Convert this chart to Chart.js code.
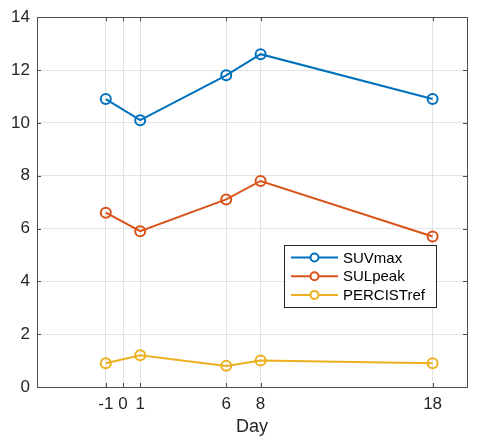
<!DOCTYPE html>
<html>
<head>
<meta charset="utf-8">
<script src="https://cdn.jsdelivr.net/npm/chart.js@4.4.1/dist/chart.umd.min.js"></script>
<style>
  html, body { margin: 0; padding: 0; background: #fff; }
  #wrap { position: relative; width: 481px; height: 443px; }
</style>
</head>
<body>
<div id="wrap"><canvas id="trend" width="481" height="443"></canvas></div>
<script>
// data
var days = [-1, 1, 6, 8, 18];
var suvMax = [10.9, 10.1, 11.8, 12.6, 10.9];
var sulPeak = [6.6, 5.9, 7.1, 7.8, 5.7];
var percistRef = [0.9, 1.2, 0.8, 1.0, 0.9];
var xTicks = [-1, 0, 1, 6, 8, 18];
var yTicks = [0, 2, 4, 6, 8, 10, 12, 14];

var FONT = "'Liberation Sans', Arial, sans-serif";
var axisColor = "#4d4d4d";

function pts(ys) {
    return days.map(function(d, i) { return { x: d, y: ys[i] }; });
}

function series(label, ys, color) {
    return {
        label: label,
        data: pts(ys),
        borderColor: color,
        backgroundColor: color,
        borderWidth: 2,
        pointRadius: 5,
        pointBorderWidth: 2,
        pointBackgroundColor: "rgba(255,255,255,0)",
        pointBorderColor: color,
        tension: 0
    };
}

// box round the plot + inward ticks, like matlab
var boxPlugin = {
    id: 'box',
    afterDraw: function(chart) {
        var ctx = chart.ctx, a = chart.chartArea;
        var xs = chart.scales.x, ys = chart.scales.y;
        ctx.save();
        ctx.strokeStyle = axisColor;
        ctx.lineWidth = 1;
        ctx.strokeRect(Math.round(a.left) + 0.5, Math.round(a.top) + 0.5,
            Math.round(a.right - a.left), Math.round(a.bottom - a.top));
        ctx.beginPath();
        xTicks.forEach(function(v) {
            var px = Math.round(xs.getPixelForValue(v)) + 0.5;
            ctx.moveTo(px, a.bottom); ctx.lineTo(px, a.bottom - 4);
            ctx.moveTo(px, a.top); ctx.lineTo(px, a.top + 4);
        });
        yTicks.forEach(function(v) {
            var py = Math.round(ys.getPixelForValue(v)) + 0.5;
            ctx.moveTo(a.left, py); ctx.lineTo(a.left + 4, py);
            ctx.moveTo(a.right, py); ctx.lineTo(a.right - 4, py);
        });
        ctx.stroke();
        ctx.restore();
    }
};

// legend box inside the axes (south-east-ish)
var legendPlugin = {
    id: 'boxLegend',
    afterDraw: function(chart) {
        var ctx = chart.ctx;
        var x0 = 284, y0 = 245, w = 152, h = 62, rowH = 18.7;
        ctx.save();
        ctx.fillStyle = "#fff";
        ctx.fillRect(x0, y0, w, h);
        ctx.strokeStyle = "#262626";
        ctx.lineWidth = 1;
        ctx.strokeRect(x0 + 0.5, y0 + 0.5, w, h);
        chart.data.datasets.forEach(function(ds, i) {
            var cy = y0 + 12.5 + i * rowH;
            ctx.strokeStyle = ds.borderColor;
            ctx.lineWidth = 2;
            ctx.beginPath();
            ctx.moveTo(x0 + 7, cy); ctx.lineTo(x0 + 54, cy);
            ctx.stroke();
            ctx.beginPath();
            ctx.arc(x0 + 30.5, cy, 4, 0, Math.PI * 2);
            ctx.fillStyle = "#fff";
            ctx.fill();
            ctx.stroke();
            ctx.fillStyle = "#000";
            ctx.font = "15px " + FONT;
            ctx.textBaseline = "middle";
            ctx.fillText(ds.label, x0 + 59, cy + 1);
        });
        ctx.restore();
    }
};

var trendChart = new Chart(document.getElementById("trend"), {
    type: 'line',
    data: {
        datasets: [
            series('SUVmax', suvMax, "#0072BD"),
            series('SULpeak', sulPeak, "#D95319"),
            series('PERCISTref', percistRef, "#EDB120")
        ]
    },
    options: {
        responsive: false,
        animation: false,
        layout: { padding: { top: 16, right: 14, left: 0, bottom: 0 } },
        plugins: {
            legend: { display: false },
            tooltip: { enabled: false }
        },
        scales: {
            x: {
                type: 'linear',
                min: -5,
                max: 20,
                afterBuildTicks: function(scale) {
                    scale.ticks = xTicks.map(function(v) { return { value: v }; });
                },
                afterFit: function(scale) { scale.height = 56; },
                grid: { color: "#e3e3e3", drawTicks: false },
                border: { display: false },
                ticks: {
                    color: "#262626",
                    padding: 7,
                    maxRotation: 0,
                    autoSkip: false,
                    font: { family: FONT, size: 17 }
                },
                title: {
                    display: true,
                    text: 'Day',
                    color: "#262626",
                    padding: { top: 0, bottom: 5 },
                    font: { family: FONT, size: 18 }
                }
            },
            y: {
                min: 0,
                max: 14,
                afterBuildTicks: function(scale) {
                    scale.ticks = yTicks.map(function(v) { return { value: v }; });
                },
                afterFit: function(scale) { scale.width = 37; },
                grid: { color: "#e3e3e3", drawTicks: false },
                border: { display: false },
                ticks: {
                    color: "#262626",
                    padding: 7,
                    font: { family: FONT, size: 17 }
                }
            }
        }
    },
    plugins: [boxPlugin, legendPlugin]
});
</script>
</body>
</html>
